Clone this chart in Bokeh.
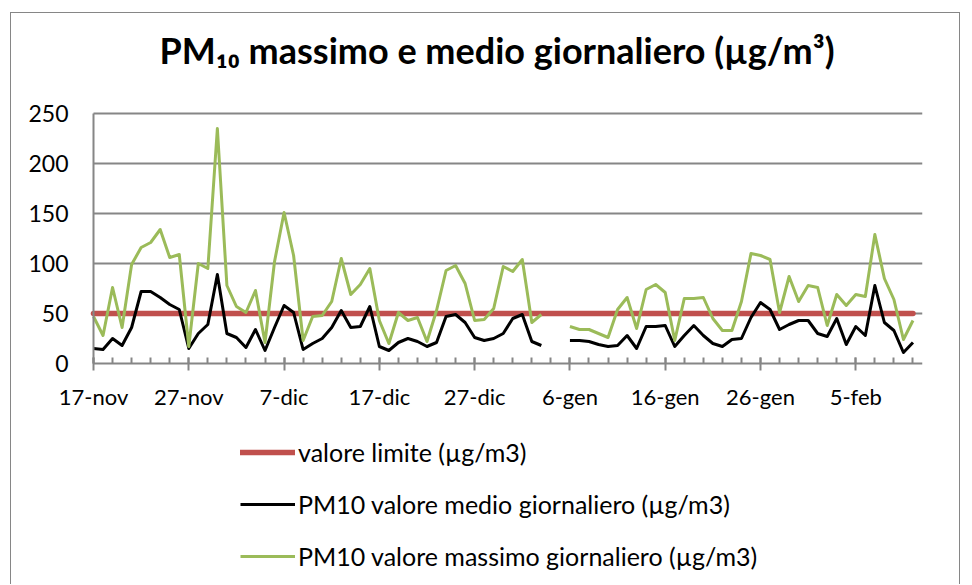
from bokeh.plotting import figure
from bokeh.models import Range1d, FixedTicker, Legend, LegendItem
from bokeh.embed import file_html
from bokeh.resources import INLINE

nan = float("nan")

# ---- data ----
days = list(range(87))  # 17-nov ... 11-feb
tick_labels = ["17-nov", "27-nov", "7-dic", "17-dic", "27-dic",
               "6-gen", "16-gen", "26-gen", "5-feb"]
tick_days = [0, 10, 20, 30, 40, 50, 60, 70, 80]

limit = 50

pm10_max = [47, 28, 76, 36, 99, 116, 121, 134, 106, 109,
            17, 100, 95, 235, 78, 57, 51, 73, 21, 102,
            151, 108, 23, 47, 48, 62, 105, 69, 79, 95,
            43, 20, 51, 43, 46, 22, 53, 93, 98, 80,
            43, 44, 55, 97, 92, 104, 41, 49, nan, nan,
            37, 34, 34, 30, 26, 54, 66, 35, 74, 79,
            71, 23, 65, 65, 66, 45, 33, 33, 62, 110,
            108, 104, 51, 87, 62, 78, 76, 38, 69, 58,
            69, 67, 129, 85, 64, 24, 43]

pm10_mean = [15, 14, 25, 18, 36, 72, 72, 66, 59, 54,
             15, 30, 39, 89, 30, 26, 16, 34, 13, 36,
             58, 51, 14, 20, 25, 36, 53, 36, 37, 57,
             17, 13, 21, 25, 22, 17, 21, 47, 49, 41,
             26, 23, 25, 30, 45, 49, 22, 18, nan, nan,
             23, 23, 22, 19, 17, 18, 28, 15, 37, 37,
             38, 17, 28, 38, 28, 20, 17, 24, 25, 46,
             61, 54, 34, 39, 43, 43, 30, 27, 45, 19,
             37, 28, 78, 41, 33, 11, 21]

y_ticks = [0, 50, 100, 150, 200, 250]

FONT = "Lato"
GRID = "#868686"

X_END = 87  # right end of the date axis (12-feb)

# The plot frame spans (almost) the whole chart area so that axis labels and
# the legend are not clipped; both axes are pinned at day 0 / value 0.
p = figure(width=970, height=584, output_backend="svg", toolbar_location=None,
           x_range=Range1d(-8.5, X_END), y_range=Range1d(-220, 273),
           min_border_left=12, min_border_right=48,
           min_border_top=90, min_border_bottom=1)

p.title.text = "PM\u2081\u2080 massimo e medio giornaliero (\u00b5g/m\u00b3)"
p.title.text_font = FONT
p.title.text_font_style = "bold"
p.title.text_font_size = "36px"
p.title.text_color = "black"
p.title.align = "left"
p.title.offset = 147
p.title.standoff = 38

p.outline_line_color = None
p.background_fill_color = "white"
p.border_fill_alpha = 0

# outer chart-area frame (left, top and right edges) drawn as CSS background
p.styles = {
    "background-color": "white",
    "background-image": "linear-gradient(#868686,#868686), "
                        "linear-gradient(#868686,#868686), "
                        "linear-gradient(#868686,#868686)",
    "background-position": "10px 12px, 10px 12px, 959px 12px",
    "background-size": "950px 1px, 1px 700px, 1px 700px",
    "background-repeat": "no-repeat",
}

# horizontal grid lines, only across the data area
p.xgrid.visible = False
p.ygrid.visible = False
p.segment(x0=[days[0]] * (len(y_ticks) - 1), x1=[X_END] * (len(y_ticks) - 1),
          y0=y_ticks[1:], y1=y_ticks[1:], line_color=GRID, line_width=2)

# y axis
p.yaxis.fixed_location = 0
p.yaxis.ticker = FixedTicker(ticks=y_ticks)
p.yaxis.bounds = (y_ticks[0], y_ticks[-1])
p.yaxis.axis_line_color = GRID
p.yaxis.axis_line_width = 2
p.yaxis.major_tick_in = 0
p.yaxis.major_tick_out = 0
p.yaxis.minor_tick_in = 0
p.yaxis.minor_tick_out = 0
p.yaxis.major_label_standoff = 25
p.yaxis.major_label_text_font = FONT
p.yaxis.major_label_text_font_size = "23px"
p.yaxis.major_label_text_color = "black"

# x axis
p.xaxis.fixed_location = 0
p.xaxis.bounds = (days[0], X_END)
p.xaxis.ticker = FixedTicker(ticks=tick_days, minor_ticks=list(range(0, X_END, 2)))
p.xaxis.major_label_overrides = {d: lab for d, lab in zip(tick_days, tick_labels)}
p.xaxis.axis_line_color = GRID
p.xaxis.axis_line_width = 2
p.xaxis.major_tick_line_color = GRID
p.xaxis.major_tick_line_width = 2
p.xaxis.major_tick_in = 6
p.xaxis.major_tick_out = 7
p.xaxis.minor_tick_line_color = GRID
p.xaxis.minor_tick_line_width = 2
p.xaxis.minor_tick_in = 6
p.xaxis.minor_tick_out = 0
p.xaxis.major_label_standoff = 12
p.xaxis.major_label_text_font = FONT
p.xaxis.major_label_text_font_size = "22px"
p.xaxis.major_label_text_color = "black"

# series
r_lim = p.line(x=[days[0], days[-1]], y=[limit, limit], line_color="#C0504D",
               line_width=5.5, line_cap="round")
r_mean = p.line(x=days, y=pm10_mean, line_color="black", line_width=3,
                line_join="round")
r_max = p.line(x=days, y=pm10_max, line_color="#9BBB59", line_width=3,
               line_join="round")

legend = Legend(items=[
    LegendItem(label="valore limite (\u00b5g/m3)", renderers=[r_lim]),
    LegendItem(label="PM10 valore medio giornaliero (\u00b5g/m3)", renderers=[r_mean]),
    LegendItem(label="PM10 valore massimo giornaliero (\u00b5g/m3)", renderers=[r_max]),
], location=(228, 10))
legend.border_line_color = None
legend.background_fill_alpha = 0
legend.padding = 0
legend.margin = 0
legend.glyph_width = 55
legend.glyph_height = 34
legend.label_height = 34
legend.label_standoff = 3
legend.spacing = 18
legend.label_text_font = FONT
legend.label_text_font_size = "25px"
legend.label_text_color = "black"
p.add_layout(legend, "center")

open("out.html", "w").write(file_html(p, INLINE))
